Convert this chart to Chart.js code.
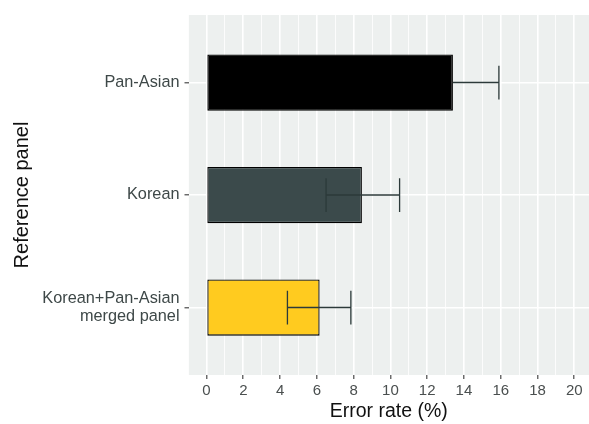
<!DOCTYPE html>
<html>
<head>
<meta charset="utf-8">
<script src="https://cdn.jsdelivr.net/npm/chart.js@4/dist/chart.umd.min.js"></script>
<style>
  html, body { margin: 0; padding: 0; background: #ffffff; }
  #wrap { width: 589px; height: 424px; }
</style>
</head>
<body>
<div id="wrap"><canvas id="c" width="589" height="424"></canvas></div>
<script>
// ---- data ----
const categories = [["Pan-Asian"], ["Korean"], ["Korean+Pan-Asian", "merged panel"]];
const positions  = [3, 2, 1];              // ggplot discrete positions (top to bottom)
const errorRate  = [13.4, 8.45, 6.15];     // bar values (%)
const errLower   = [13.4, 6.5, 4.4];       // lower error limit (%)
const errUpper   = [15.9, 10.5, 7.85];     // upper error limit (%)
const barColors  = ["#000000", "#3B4A4B", "#FFCB1F"];
const xTickValues = [-1,0,1,2,3,4,5,6,7,8,9,10,11,12,13,14,15,16,17,18,19,20];

const PANEL_BG = "#EDF0EF";

const panelPlugin = {
  id: 'panel',
  beforeDraw(chart) {
    const a = chart.chartArea, ctx = chart.ctx;
    ctx.save();
    ctx.fillStyle = PANEL_BG;
    ctx.fillRect(a.left, a.top, a.right - a.left, a.bottom - a.top);
    ctx.restore();
  }
};

const errorBarPlugin = {
  id: 'errorbars',
  afterDatasetsDraw(chart) {
    const ctx = chart.ctx, xs = chart.scales.x, ys = chart.scales.y;
    const capHalf = Math.abs(ys.getPixelForValue(0.15) - ys.getPixelForValue(0));
    ctx.save();
    ctx.strokeStyle = "#2C3A3A";
    ctx.lineWidth = 1.3;
    positions.forEach((p, i) => {
      const y = ys.getPixelForValue(p);
      const x1 = xs.getPixelForValue(errLower[i]);
      const x2 = xs.getPixelForValue(errUpper[i]);
      ctx.beginPath();
      ctx.moveTo(x1, y); ctx.lineTo(x2, y);
      if (errLower[i] !== errorRate[i]) { ctx.moveTo(x1, y - capHalf); ctx.lineTo(x1, y + capHalf); }
      ctx.moveTo(x2, y - capHalf); ctx.lineTo(x2, y + capHalf);
      ctx.stroke();
    });
    ctx.restore();
  }
};

const FONT = "'Liberation Sans', Arial, sans-serif";

new Chart(document.getElementById('c'), {
  type: 'bar',
  data: {
    datasets: [{
      data: positions.map((p, i) => ({ x: errorRate[i], y: p })),
      backgroundColor: barColors,
      borderColor: "#000000",
      borderWidth: 1.3,
      borderSkipped: false,
      barPercentage: 0.5,
      categoryPercentage: 1.0
    }]
  },
  options: {
    indexAxis: 'y',
    responsive: false,
    animation: false,
    events: [],
    layout: { padding: { top: 15, right: 0, left: 0, bottom: 0 } },
    plugins: { legend: { display: false }, tooltip: { enabled: false } },
    scales: {
      x: {
        type: 'linear',
        min: -0.98,
        max: 20.8,
        afterBuildTicks(scale) { scale.ticks = xTickValues.map(v => ({ value: v })); },
        afterFit(scale) { scale.height = 49; scale.paddingLeft = 0; scale.paddingRight = 0; },
        border: { display: false },
        grid: {
          color: "#FFFFFF",
          lineWidth: c => (c.tick && c.tick.value % 2 === 0) ? 1.6 : 0.8,
          drawTicks: true,
          tickLength: 4,
          tickWidth: 1.1,
          tickColor: c => (c.tick && c.tick.value % 2 === 0 && c.tick.value >= 0) ? "#3A3A3A" : "rgba(0,0,0,0)"
        },
        ticks: {
          autoSkip: false,
          maxRotation: 0,
          padding: 3,
          color: "#4A4F4F",
          font: { family: FONT, size: 15 },
          callback: v => (v % 2 === 0 && v >= 0) ? String(v) : ''
        },
        title: {
          display: true,
          text: "Error rate (%)",
          color: "#111111",
          font: { family: FONT, size: 19.5 },
          padding: { top: 0, bottom: 1 }
        }
      },
      y: {
        type: 'linear',
        min: 0.4,
        max: 3.6,
        offset: false,
        afterBuildTicks(scale) { scale.ticks = positions.map(v => ({ value: v })); },
        afterFit(scale) { scale.width = 188.5; scale.paddingTop = 0; scale.paddingBottom = 0; },
        border: { display: false },
        grid: {
          offset: false,
          color: "#FFFFFF",
          lineWidth: 1.6,
          drawTicks: true,
          tickLength: 4,
          tickWidth: 1.1,
          tickColor: "#3A3A3A"
        },
        ticks: {
          autoSkip: false,
          padding: 5,
          color: "#3E4848",
          font: { family: FONT, size: 16.3, lineHeight: 1.12 },
          callback: v => { const i = positions.indexOf(v); return i >= 0 ? categories[i] : ''; }
        },
        title: {
          display: true,
          text: "Reference panel",
          color: "#111111",
          font: { family: FONT, size: 20 },
          padding: { top: 10, bottom: 4 }
        }
      }
    }
  },
  plugins: [panelPlugin, errorBarPlugin]
});
</script>
</body>
</html>
